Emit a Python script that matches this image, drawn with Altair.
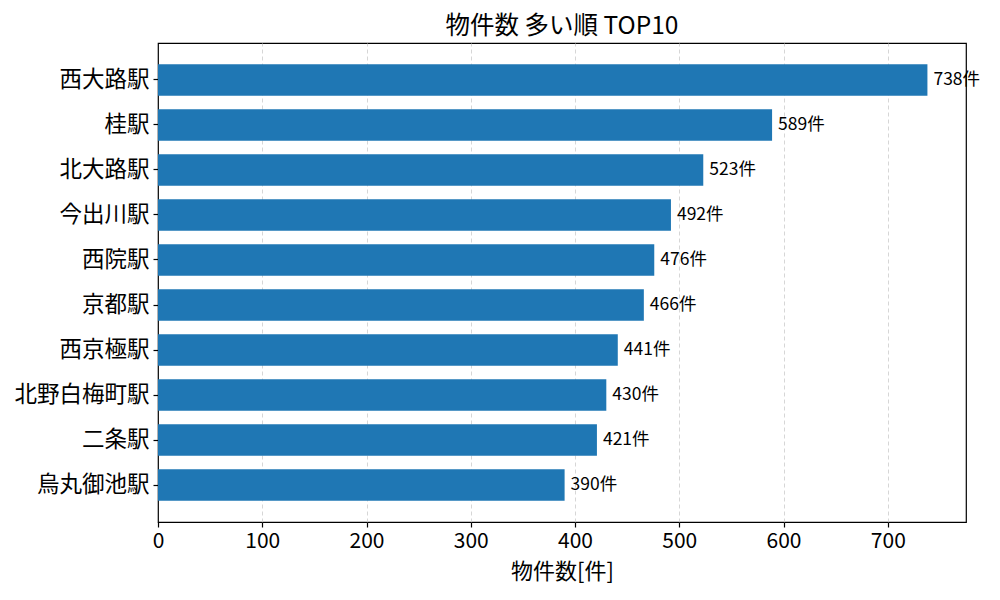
import altair as alt
import pandas as pd

stations = ["西大路駅", "桂駅", "北大路駅", "今出川駅", "西院駅", "京都駅", "西京極駅", "北野白梅町駅", "二条駅", "烏丸御池駅"]
counts = [738, 589, 523, 492, 476, 466, 441, 430, 421, 390]
labels = [f"{c}件" for c in counts]

df = pd.DataFrame({"station": stations, "count": counts, "label": labels})

FONT = "Noto Sans CJK JP"

y_enc = alt.Y("station:N", sort=stations, title=None,
              scale=alt.Scale(paddingInner=0.3, paddingOuter=0.47),
              axis=alt.Axis(labelFontSize=22.5, labelFont=FONT, labelColor="black",
                            tickColor="black", tickSize=5, domain=False, grid=False,
                            labelPadding=4))
x_enc = alt.X("count:Q", title="物件数[件]",
              scale=alt.Scale(domain=[0, 775], nice=False, zero=True),
              axis=alt.Axis(values=[0, 100, 200, 300, 400, 500, 600, 700],
                            labelFontSize=21, labelFont=FONT, labelColor="black",
                            labelFlush=False,
                            titleFontSize=22, titleFont=FONT, titleFontWeight="normal",
                            titleColor="black", tickColor="black", tickSize=5,
                            domain=False, grid=True, gridDash=[4, 3],
                            gridColor="#cccccc", gridWidth=0.8,
                            gridOpacity=alt.condition("datum.value == 0", alt.value(0), alt.value(1)),
                            labelPadding=3, titlePadding=10))

bars = alt.Chart(df).mark_bar(color="#1f77b4").encode(x=x_enc, y=y_enc)

text = alt.Chart(df).mark_text(align="left", baseline="middle", dx=6, fontSize=17.5,
                               font=FONT, color="black").encode(
    x=alt.X("count:Q"), y=alt.Y("station:N", sort=stations), text="label:N")

chart = (bars + text).properties(
    width=808, height=479,
    title=alt.TitleParams("物件数 多い順 TOP10", fontSize=24.5, font=FONT,
                          fontWeight="normal", color="black", offset=4),
    padding={"left": 150, "top": 35, "right": 26, "bottom": 70},
    autosize=alt.AutoSizeParams(type="none"),
).configure_view(stroke="black", strokeWidth=1.2).configure_axis(
    tickWidth=1.2)

chart.save("out.html", embed_options={"renderer": "svg", "actions": False})
